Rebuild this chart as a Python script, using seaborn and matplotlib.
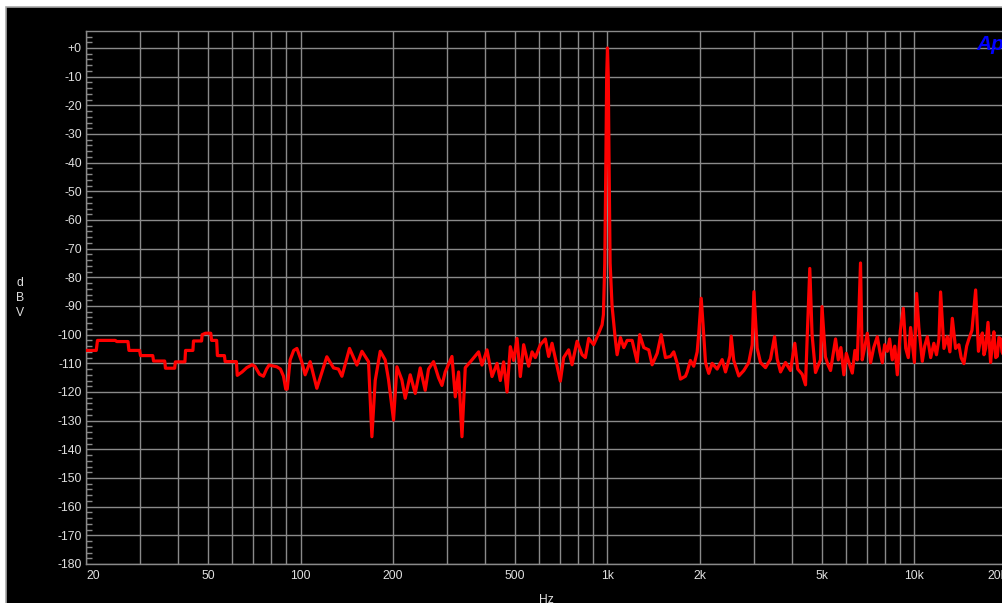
import matplotlib
matplotlib.use("Agg")
import matplotlib.pyplot as plt
import numpy as np
import pandas as pd
import seaborn as sns
from matplotlib.patches import Rectangle
from matplotlib.ticker import FixedLocator, NullLocator, MultipleLocator

# ---------------- data ----------------
freq_low = [
    20, 21.6, 21.8, 24.9, 25.2, 27.4, 27.6, 29.9, 30.1, 33.0, 33.2, 36.1, 36.3, 38.9, 39.1,
    42.0, 42.2, 44.6, 44.8, 47.6, 47.8, 49.0, 51.0, 51.3, 53.3, 53.6, 56.5, 56.8, 61.8, 62.2,
    64.5, 66.8, 69.5, 71.0, 73.5, 75.7, 77.5, 79.0, 83.7, 86.0, 88.0, 89.5, 90.5, 92.5, 95.0,
    97.3,
]
level_low = [
    -105.5, -105.5, -102, -102, -102.4, -102.4, -105.5, -105.5, -107.3, -107.3, -109.2, -109.2, -111.7, -111.7, -109.5,
    -109.5, -105.5, -105.5, -102.2, -102.2, -100, -99.5, -99.5, -102, -102, -107.3, -107.3, -109.4, -109.4, -114.2,
    -113, -111.5, -110.5, -111, -113.8, -114.5, -112, -110.6, -111.2, -112, -114.5, -119, -119, -108.8, -105.5,
    -104.8,
]
freq_mid = [
    101.0, 103.5, 107.5, 113.0, 121.8, 128.1, 132.9, 136.4, 144.4, 152.6, 158.5, 166.5,
    170.8, 175.1, 181.8, 188.7, 193.5, 200.9, 206.1, 213.9, 219.3, 227.7, 236.4, 245.4, 254.8,
    261.2, 271.2, 281.6, 288.9, 296.1, 311.4, 319.3, 327.3, 335.7, 344.1, 361.8, 380.3, 390.1,
    405.1, 420.6, 436.7, 447.6, 458.8, 470.7, 482.5, 494.6, 507.4, 520.1, 533.2, 553.6, 568.0,
    582.1, 604.4, 627.5, 643.2, 659.8, 685.0, 702.2, 719.8, 747.3, 766.6, 796.0, 826.5, 847.2,
    868.6, 901.6, 936.1, 960.3,
]
level_mid = [
    -109.6, -114, -109.4, -118.7, -107.7, -111.6, -112, -114.5, -104.8, -110.6, -105.8, -109.4,
    -135.6, -116, -105.8, -108.8, -115.7, -129.8, -111.2, -115.8, -122.2, -114, -120.5, -111.6, -119.4,
    -112, -109.4, -115, -117.7, -113, -107.6, -121.7, -113, -135.6, -111.5, -108.8, -106, -110.6,
    -105.3, -114.6, -110, -116, -109.5, -120, -104.2, -109, -101.3, -114.6, -103.5, -111, -106,
    -108, -103.5, -101.5, -107.6, -103, -111, -116.2, -108, -105.3, -110.5, -102.3, -107, -108,
    -101.3, -103.5, -99.5, -96.6,
]
freq_fund = [970, 980, 988, 994, 1000, 1006, 1012, 1020, 1035]
level_fund = [-93, -75, -40, -10, 0, -10, -40, -75, -90]
freq_upper = [
    1061, 1075, 1102, 1130, 1159, 1203, 1249, 1274, 1313, 1363, 1398, 1452, 1496, 1545, 1604,
    1644, 1687, 1729, 1795, 1818, 1863, 1910, 1960, 1984, 2020, 2050, 2086, 2138, 2193, 2277,
    2364, 2424, 2505, 2530, 2579, 2678, 2781, 2886, 2961, 3000, 3074, 3151, 3272, 3398, 3502,
    3573, 3663, 3802, 3947, 4077, 4167, 4309, 4418, 4475, 4562, 4641, 4762, 4944,
]
level_upper = [
    -101.8, -107, -101, -104.5, -102, -102, -109.5, -100, -104.5, -105.3, -110.5, -106.5, -100, -108, -107.6,
    -106, -110, -115.5, -114.5, -113, -109, -111, -106, -99.4, -87.3, -97, -109.7, -113.5, -110, -112,
    -108.7, -113, -107.5, -100.5, -109, -114.4, -112.5, -109.7, -103.6, -85, -104.7, -109.7, -111.5, -108.5, -100.7,
    -108.5, -113, -109.7, -112.5, -103, -112, -113.8, -117.5, -100.7, -76.9, -100, -113.2, -108.8,
]
freq_high = [
    5000, 5128, 5230, 5331, 5535, 5649, 5760, 5891, 6000, 6130, 6276, 6400, 6516, 6675, 6760,
    6900, 7023, 7198, 7370, 7570, 7720, 7862, 8000, 8160, 8300, 8472, 8630, 8797, 9000, 9200,
    9370, 9550, 9719, 10000, 10165, 10340, 10610, 10800, 11020, 11300, 11570, 11800, 12020, 12170,
    12480, 12800, 13050, 13290, 13620, 13960, 14200, 14500, 14800, 15050, 15400, 15830, 16170,
    16400, 16650, 16850, 17070, 17370, 17710, 17950, 18150, 18400, 18630, 18850, 19100, 19300,
    19480, 20000,
]
level_high = [
    -90.2, -107.7, -110.5, -112.5, -101.5, -108.8, -104.5, -114, -106.5, -110, -113.4, -105.5, -108.8, -75, -108.8,
    -104, -99.5, -109.8, -104.5, -100.7, -106, -109.8, -103.5, -105.8, -101.5, -108.8, -104, -114, -98.5, -90.8,
    -104.8, -108, -97.5, -109.7, -85.6, -97.5, -109.3, -104, -100.7, -108, -103, -107, -101.5, -85.1,
    -104.8, -100.7, -106, -94.3, -104.8, -103.5, -108, -110.1, -104, -101.5, -98.5, -84.4, -105.8,
    -102, -99.4, -107, -104.8, -95.7, -109.7, -103, -99, -108, -107.5, -101, -101.5, -106,
    -107, -103,
]

grid_freqs = [20, 30, 40, 50, 60, 70, 80, 90, 100, 200, 300, 400, 500, 600, 700, 800, 900,
              1000, 2000, 3000, 4000, 5000, 6000, 7000, 8000, 9000, 10000, 20000]
x_tick_text = {20: "20", 50: "50", 100: "100", 200: "200", 500: "500", 1000: "1k",
               2000: "2k", 5000: "5k", 10000: "10k", 20000: "20k"}
y_ticks = list(range(-180, 1, 10))
y_tick_text = ["+0" if v == 0 else str(v) for v in y_ticks]

freq_hz = freq_low + freq_mid + freq_fund + freq_upper + freq_high
level_dbv = level_low + level_mid + level_fund + level_upper + level_high

# ---------------- style ----------------
sns.set_theme(style="dark")
plt.rcParams["font.family"] = ["Liberation Sans", "DejaVu Sans"]

W, H = 1003, 603
fig = plt.figure(figsize=(W / 100, H / 100), dpi=100, facecolor="white")
frame = Rectangle((6 / W, -0.01), 1.0, 1 - 7 / H + 0.01, transform=fig.transFigure,
                  facecolor="black", edgecolor="#a8a8a8", linewidth=1.2, zorder=-10)
fig.add_artist(frame)

ax = fig.add_axes([86 / W, 39 / H, (1006.8 - 86) / W, 533 / H])
ax.set_zorder(1)
ax.set_facecolor("black")

df = pd.DataFrame({"Hz": freq_hz, "dBV": level_dbv})
sns.lineplot(data=df, x="Hz", y="dBV", ax=ax, color="#ff0000", linewidth=2.3,
             estimator=None, sort=False, zorder=3)

ax.set_xscale("log")
ax.set_xlim(20, 20000)
ax.set_ylim(-180, 5.93)

grid_col = "#8a8a8a"
text_col = "#e0e0e0"

ax.xaxis.set_major_locator(FixedLocator(grid_freqs))
ax.xaxis.set_minor_locator(NullLocator())
ax.set_xticklabels([x_tick_text.get(v, "") for v in grid_freqs])
ax.yaxis.set_major_locator(FixedLocator(y_ticks))
ax.set_yticklabels(y_tick_text)
ax.yaxis.set_minor_locator(MultipleLocator(2))

ax.grid(True, which="major", color=grid_col, linewidth=1.0)
ax.grid(False, which="minor")
ax.tick_params(axis="x", which="major", length=0, pad=4, labelcolor=text_col, labelsize=8.7)
ax.tick_params(axis="y", which="major", length=0, pad=3, labelcolor=text_col, labelsize=8.7, left=True)
ax.tick_params(axis="y", which="minor", direction="in", length=4, width=1, color=grid_col, left=True)

xl = ax.get_xticklabels()
xl[0].set_ha("left")
xl[-1].set_ha("right")

for side in ["left", "bottom", "top"]:
    ax.spines[side].set_visible(True)
    ax.spines[side].set_color(grid_col)
    ax.spines[side].set_linewidth(1.0)
ax.spines["right"].set_visible(False)

ax.set_xlabel("")
ax.set_ylabel("")
fig.text(546 / W, 1 - 594 / H, "Hz", color=text_col, fontsize=8.7, ha="center", va="top")
fig.text(20 / W, 1 - 298 / H, "d\nB\nV", color=text_col, fontsize=8.7, ha="center", va="center",
         linespacing=1.35)
fig.text(976 / W, 1 - 50 / H, "Ap", color="#0000ff", fontsize=15, fontweight="bold",
         fontstyle="italic", ha="left", va="baseline")

fig.savefig("out.png", dpi=100, facecolor="white")
